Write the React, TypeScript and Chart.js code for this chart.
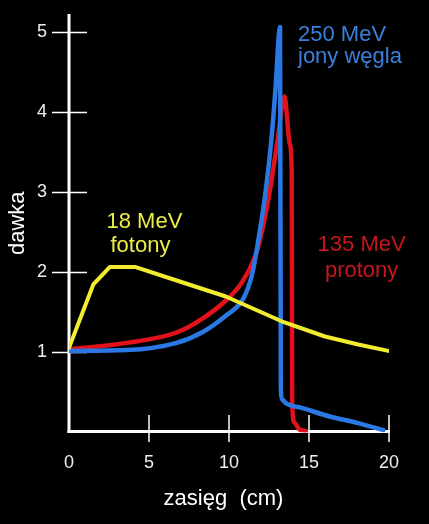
import React, { useEffect, useRef } from 'react';
import { Chart, registerables } from 'chart.js';

Chart.register(...registerables);

// ---- data ----
const xTickValues = [0, 5, 10, 15, 20];
const yTickValues = [1, 2, 3, 4, 5];

// 18 MeV photons (yellow)
const photonX = [0, 1.52, 2.56, 4.12, 6.73, 9.8, 13.29, 16.0, 18.08, 19.96];
const photonY = [1.06, 1.85, 2.07, 2.07, 1.9, 1.7, 1.39, 1.2, 1.1, 1.02];

// 135 MeV protons (red)
const protonX = [0, 3.6, 6.73, 8.39, 9.8, 10.79, 11.63, 11.94, 12.56, 13.04, 13.46, 13.81, 13.92, 13.95, 14.1, 14.4, 14.8];
const protonY = [1.04, 1.12, 1.25, 1.43, 1.65, 1.87, 2.2, 2.41, 3.03, 3.66, 4.2, 3.6, 3.25, 0.35, 0.12, 0.04, 0.02];

// 250 MeV carbon ions (blue)
const carbonX = [0, 3.6, 6.73, 8.39, 9.8, 10.79, 11.21, 11.46, 11.84, 12.3, 12.65, 12.9, 13.19, 13.24, 13.3, 13.6, 14.5, 16.3, 18, 19.65];
const carbonY = [1.02, 1.03, 1.12, 1.26, 1.46, 1.64, 1.82, 1.99, 2.41, 3.03, 3.66, 4.28, 5.07, 0.55, 0.42, 0.36, 0.31, 0.2, 0.12, 0.03];

const seriesLabels = ['18 MeV fotony', '250 MeV jony węgla', '135 MeV protony'];
const xTitle = 'zasięg  (cm)';
const yTitle = 'dawka';

const photonText = ['18 MeV', 'fotony'];
const carbonText = ['250 MeV', 'jony węgla'];
const protonText = ['135 MeV', 'protony'];

const FONT = "'Liberation Sans', Arial, sans-serif";

const toPoints = (xs: number[], ys: number[]) => xs.map((x, i) => ({ x, y: ys[i] }));

const axesPlugin = {
  id: 'crossAxes',
  beforeDatasetsDraw(chart: any) {
    const { ctx, scales } = chart;
    const xs = scales.x;
    const ys = scales.y;
    const x0 = xs.getPixelForValue(0);
    const y0 = ys.getPixelForValue(0);
    const line = (a: number, b: number, c: number, d: number) => {
      ctx.beginPath();
      ctx.moveTo(a, b);
      ctx.lineTo(c, d);
      ctx.stroke();
    };
    ctx.save();
    ctx.strokeStyle = '#ffffff';
    ctx.lineWidth = 1.5;
    ys.ticks.forEach((t: any) => {
      const py = ys.getPixelForValue(t.value);
      line(x0 - 17, py, x0 + 18, py);
    });
    xs.ticks.forEach((t: any) => {
      if (t.value === 0) return;
      const px = xs.getPixelForValue(t.value);
      line(px, y0 - 17.5, px, y0 + 9.5);
    });
    ctx.lineWidth = 3;
    line(x0, chart.chartArea.top, x0, y0 + 0.5);
    line(x0 - 1.5, y0 - 1, xs.getPixelForValue(20) + 1, y0 - 1);
    ctx.restore();
  },
};

const textPlugin = {
  id: 'seriesText',
  afterDatasetsDraw(chart: any) {
    const { ctx } = chart;
    ctx.save();
    ctx.font = `22px ${FONT}`;
    ctx.textBaseline = 'alphabetic';
    // x axis title
    ctx.fillStyle = '#ffffff';
    ctx.textAlign = 'center';
    ctx.fillText(xTitle, 223.5, 505);
    // carbon
    ctx.fillStyle = '#3a80dc';
    ctx.textAlign = 'left';
    ctx.fillText(carbonText[0], 298, 41);
    ctx.fillText(carbonText[1], 298, 63);
    // photons
    ctx.fillStyle = '#ecec48';
    ctx.fillText(photonText[0], 106.5, 228);
    ctx.fillText(photonText[1], 110.5, 252);
    // protons
    ctx.fillStyle = '#c8161c';
    ctx.textAlign = 'center';
    ctx.fillText(protonText[0], 361.6, 251);
    ctx.fillText(protonText[1], 361.6, 277);
    ctx.restore();
  },
};

const noPad = (s: any) => {
  s.paddingTop = 0;
  s.paddingBottom = 0;
  s.paddingLeft = 0;
  s.paddingRight = 0;
};

export default function App() {
  const canvasRef = useRef<HTMLCanvasElement | null>(null);

  useEffect(() => {
    if (!canvasRef.current) return;
    Chart.defaults.font.family = FONT;
    const chart = new Chart(canvasRef.current, {
      type: 'line',
      data: {
        datasets: [
          {
            label: seriesLabels[0],
            data: toPoints(photonX, photonY),
            borderColor: '#f2ec2e',
            borderWidth: 4,
            tension: 0,
            pointRadius: 0,
            borderJoinStyle: 'round',
            borderCapStyle: 'round',
          },
          {
            label: seriesLabels[1],
            data: toPoints(carbonX, carbonY),
            borderColor: '#2a78e4',
            borderWidth: 4.5,
            cubicInterpolationMode: 'monotone',
            pointRadius: 0,
            borderJoinStyle: 'round',
            borderCapStyle: 'round',
          },
          {
            label: seriesLabels[2],
            data: toPoints(protonX, protonY),
            borderColor: '#e3121a',
            borderWidth: 4.5,
            cubicInterpolationMode: 'monotone',
            pointRadius: 0,
            borderJoinStyle: 'round',
            borderCapStyle: 'round',
          },
        ],
      },
      options: {
        animation: false,
        responsive: true,
        maintainAspectRatio: false,
        layout: { padding: { top: 14, right: 40, bottom: 0, left: 0 } },
        plugins: {
          legend: { display: false },
          tooltip: { enabled: false },
        },
        scales: {
          x: {
            type: 'linear',
            min: 0,
            max: 20,
            afterBuildTicks: (s: any) => {
              s.ticks = xTickValues.map((v) => ({ value: v }));
            },
            afterFit: (s: any) => {
              s.height = 91.5;
              noPad(s);
            },
            grid: { display: false, drawTicks: false },
            border: { display: false },
            ticks: {
              color: '#eeeeee',
              font: { size: 18, family: FONT },
              padding: 20,
              autoSkip: false,
              maxRotation: 0,
            },
            title: { display: false, text: xTitle },
          },
          y: {
            type: 'linear',
            min: 0,
            max: 5.231,
            afterBuildTicks: (s: any) => {
              s.ticks = yTickValues.map((v) => ({ value: v }));
            },
            afterFit: (s: any) => {
              s.width = 69;
              noPad(s);
            },
            grid: { display: false, drawTicks: false },
            border: { display: false },
            ticks: {
              color: '#eeeeee',
              font: { size: 18, family: FONT },
              padding: 22,
              autoSkip: false,
            },
            title: {
              display: true,
              text: yTitle,
              color: '#ffffff',
              font: { size: 22, family: FONT },
              padding: { top: 5, bottom: 0 },
            },
          },
        },
      },
      plugins: [axesPlugin, textPlugin],
    } as any);
    return () => chart.destroy();
  }, []);

  return (
    <div
      style={{
        position: 'fixed',
        left: 0,
        top: 0,
        width: 429,
        height: 524,
        background: '#000000',
      }}
    >
      <canvas ref={canvasRef} />
    </div>
  );
}
